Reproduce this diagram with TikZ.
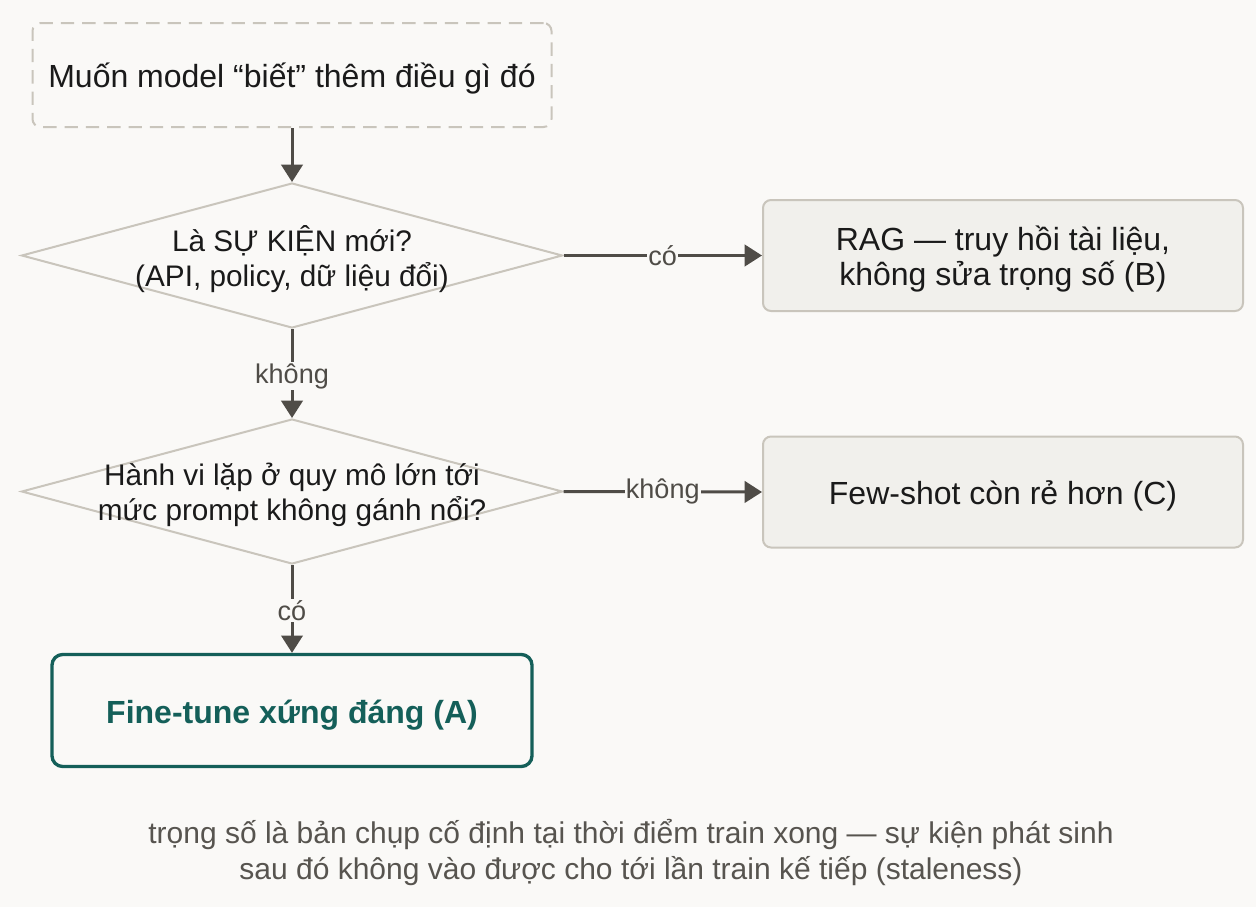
\documentclass[tikz,border=0pt]{standalone}
\usepackage{fontspec}
\setmainfont{Liberation Sans}
\usetikzlibrary{arrows.meta,shapes.geometric}
\definecolor{bg}{HTML}{FAF9F7}
\definecolor{bordergray}{HTML}{C9C5BC}
\definecolor{boxfill}{HTML}{F1F0EC}
\definecolor{arrowc}{HTML}{4F4C47}
\definecolor{teal}{HTML}{145F59}
\definecolor{txt}{HTML}{1A1A1A}
\definecolor{notec}{HTML}{57544F}
\tikzset{
  x=0.75pt, y=-0.75pt,
  boxtext/.style={font=\fontsize{24pt}{26.25pt}\selectfont, text=txt, align=center, yshift=-3pt},
  diatext/.style={font=\fontsize{22.3pt}{26.25pt}\selectfont, text=txt, align=center, yshift=-2.5pt},
  finaltext/.style={font=\fontsize{24pt}{26.25pt}\selectfont\bfseries, text=teal, yshift=-3.5pt},
  startbox/.style={draw=bordergray, line width=1.5pt, dash pattern=on 10pt off 6pt, rounded corners=6pt, fill=bg, minimum width=519*0.75pt, minimum height=104*0.75pt},
  decision/.style={diamond, draw=bordergray, line width=1.5pt, fill=bg, minimum width=541*0.75pt, minimum height=145*0.75pt, inner sep=0pt},
  outbox/.style={draw=bordergray, line width=1.5pt, rounded corners=6pt, fill=boxfill, minimum width=480*0.75pt, minimum height=111*0.75pt},
  finalbox/.style={draw=teal, line width=2.5pt, rounded corners=8pt, fill=bg, minimum width=480*0.75pt, minimum height=112*0.75pt},
  conn/.style={draw=arrowc, line width=2.25pt, -{Triangle[length=13pt,width=16pt]}},
  elabel/.style={fill=bg, text=arrowc, font=\fontsize{20.3pt}{22pt}\selectfont, inner sep=1pt},
  note/.style={text=notec, font=\fontsize{22.5pt}{27pt}\selectfont, align=center}
}
\begin{document}
\begin{tikzpicture}
\fill[bg] (0,0) rectangle (1256,907);
\useasboundingbox (0,0) rectangle (1256,907);
\node[startbox] (start) at (292,75) {};
\node[boxtext] (startt) at (start) {Muốn model “biết” thêm điều gì đó};
\node[decision] (d1) at (292,255.5) {};
\node[diatext] (d1t) at (d1) {Là SỰ KIỆN mới?\\(API, policy, dữ liệu đổi)};
\node[outbox] (rag) at (1003,255.5) {};
\node[boxtext] (ragt) at (rag) {RAG — truy hồi tài liệu,\\không sửa trọng số (B)};
\node[decision] (d2) at (292,491.5) {};
\node[diatext] (d2t) at (d2) {Hành vi lặp ở quy mô lớn tới\\mức prompt không gánh nổi?};
\node[outbox] (few) at (1003,492) {};
\node[boxtext] (fewt) at (few) {Few-shot còn rẻ hơn (C)};
\node[finalbox] (ft) at (292,710.5) {};
\node[finaltext] (ftt) at (ft) {Fine-tune xứng đáng (A)};
\draw[conn] (start.south) -- (d1.north);
\draw[conn] (d1.east) -- node[elabel] {có} (rag.west);
\draw[conn] (d1.south) -- node[elabel, yshift=-2pt] {không} (d2.north);
\draw[conn] (d2.east) -- node[elabel] {không} (few.west);
\draw[conn] (d2.south) -- node[elabel, yshift=-1pt] {có} (ft.north);
\node[note, yshift=-1pt] (nt) at (631,851) {trọng số là bản chụp cố định tại thời điểm train xong — sự kiện phát sinh\\sau đó không vào được cho tới lần train kế tiếp (staleness)};
\end{tikzpicture}
\end{document}
